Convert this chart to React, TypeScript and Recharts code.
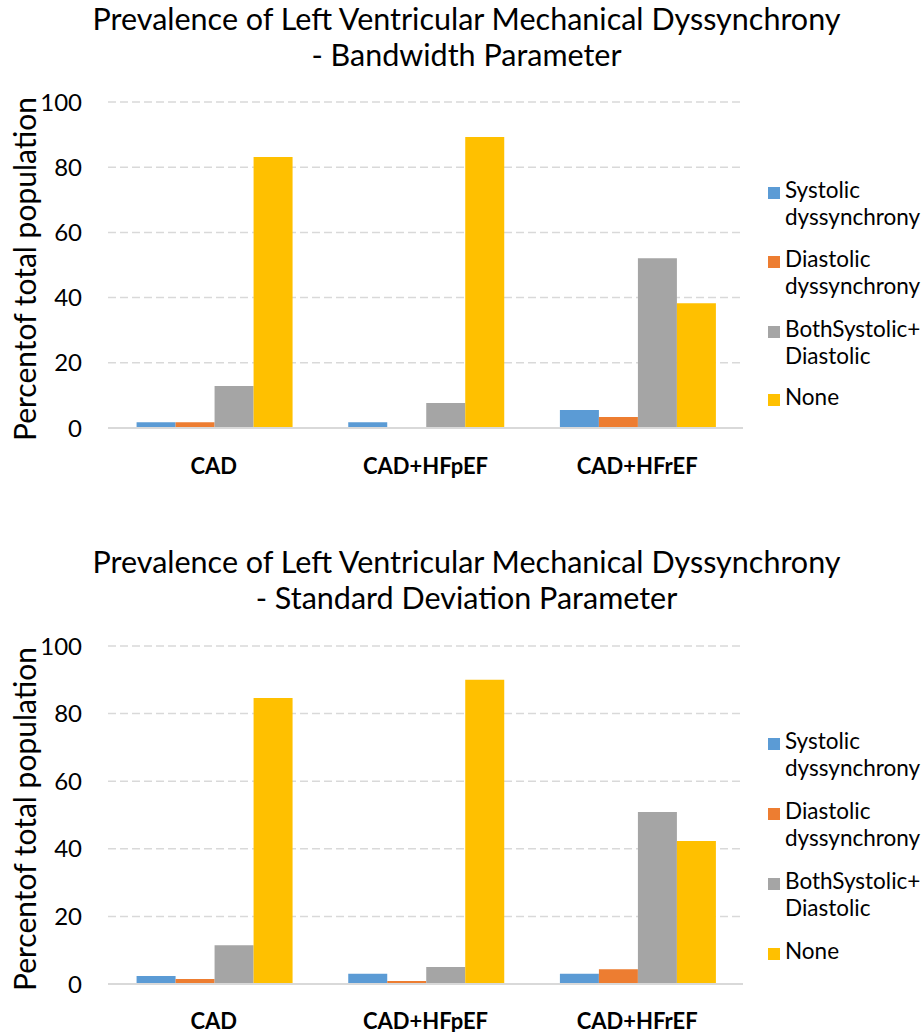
import { BarChart, Bar, XAxis, YAxis, CartesianGrid, Label } from 'recharts';

// categories and series
const categories = ['CAD', 'CAD+HFpEF', 'CAD+HFrEF'];
const seriesKeys = ['systolic', 'diastolic', 'both', 'none'];
const seriesLabels = [
  ['Systolic', 'dyssynchrony'],
  ['Diastolic', 'dyssynchrony'],
  ['BothSystolic+', 'Diastolic'],
  ['None'],
];
const seriesColors = ['#5B9BD5', '#ED7D31', '#A5A5A5', '#FFC000'];
const yTicks = [0, 20, 40, 60, 80, 100];

// Bandwidth parameter
const bwSystolic = [1.8, 1.8, 5.5];
const bwDiastolic = [1.8, 0.3, 3.4];
const bwBoth = [12.9, 7.7, 52.1];
const bwNone = [83.1, 89.3, 38.3];

// Standard deviation parameter
const sdSystolic = [2.4, 3.0, 3.0];
const sdDiastolic = [1.5, 0.9, 4.4];
const sdBoth = [11.5, 5.0, 50.9];
const sdNone = [84.6, 90.0, 42.3];

const FONT = 'Lato, "Open Sans", sans-serif';

function buildData(s: number[], d: number[], b: number[], n: number[]) {
  return categories.map((name, i) => ({
    name,
    systolic: s[i],
    diastolic: d[i],
    both: b[i],
    none: n[i],
  }));
}

interface PanelProps {
  top: number;
  titleLines: string[];
  data: any[];
  plotTop: number;
  plotBottom: number;
  tickDy: number;
  legendTops: number[];
}

function Panel({ top, titleLines, data, plotTop, plotBottom, tickDy, legendTops }: PanelProps) {
  const height = 516;
  return (
    <div style={{ position: 'absolute', left: 0, top, width: 923, height }}>
      <div
        style={{
          position: 'absolute',
          left: 5,
          top: 0,
          width: 923,
          textAlign: 'center',
          fontFamily: FONT,
          fontSize: 30.5,
          lineHeight: '36px',
          color: '#000',
          whiteSpace: 'nowrap',
        }}
      >
        {titleLines.map((t) => (
          <div key={t}>{t}</div>
        ))}
      </div>
      <BarChart
        width={923}
        height={height}
        data={data}
        margin={{ top: plotTop, right: 180, bottom: 0, left: 0 }}
        barCategoryGap="13.5%"
        barGap={0}
      >
        <CartesianGrid vertical={false} stroke="#D9D9D9" strokeWidth={1.5} strokeDasharray="8 4" />
        <XAxis
          dataKey="name"
          height={height - plotBottom}
          axisLine={{ stroke: '#D9D9D9', strokeWidth: 2 }}
          tickLine={false}
          tick={{ fill: '#000', fontFamily: FONT, fontSize: 22, fontWeight: 700, dy: tickDy }}
        />
        <YAxis
          width={108}
          domain={[0, 100]}
          ticks={yTicks}
          axisLine={false}
          tickLine={false}
          tickMargin={20}
          tick={{ fill: '#000', fontFamily: FONT, fontSize: 24 }}
        >
          <Label
            content={(props: any) => {
              const vb = props.viewBox || {};
              const cy = (vb.y ?? plotTop) + (vb.height ?? plotBottom - plotTop) / 2 + 4;
              return (
                <text
                  x={24}
                  y={cy}
                  transform={`rotate(-90, 24, ${cy})`}
                  textAnchor="middle"
                  dominantBaseline="central"
                  fontFamily={FONT}
                  fontSize={30}
                  fill="#000"
                >
                  Percentof total population
                </text>
              );
            }}
          />
        </YAxis>
        {seriesKeys.map((k, i) => (
          <Bar key={k} dataKey={k} fill={seriesColors[i]} isAnimationActive={false} />
        ))}
      </BarChart>
      {seriesLabels.map((lines, i) => (
        <div
          key={i}
          style={{
            position: 'absolute',
            left: 768,
            top: legendTops[i],
            fontFamily: FONT,
            fontSize: 22.5,
            lineHeight: '27px',
            color: '#000',
            whiteSpace: 'nowrap',
          }}
        >
          <span
            style={{
              position: 'absolute',
              left: 0,
              top: 11,
              width: 12,
              height: 12,
              background: seriesColors[i],
            }}
          />
          <div style={{ marginLeft: 17 }}>
            {lines.map((l) => (
              <div key={l}>{l}</div>
            ))}
          </div>
        </div>
      ))}
    </div>
  );
}

export default function App() {
  return (
    <div style={{ position: 'absolute', left: 0, top: 0, width: 923, height: 1032, background: '#fff' }}>
      <Panel
        top={0}
        titleLines={['Prevalence of Left Ventricular Mechanical Dyssynchrony', '- Bandwidth Parameter']}
        data={buildData(bwSystolic, bwDiastolic, bwBoth, bwNone)}
        plotTop={102}
        plotBottom={428}
        tickDy={22}
        legendTops={[176, 245, 315, 383]}
      />
      <Panel
        top={543}
        titleLines={['Prevalence of Left Ventricular Mechanical Dyssynchrony', '- Standard Deviation Parameter']}
        data={buildData(sdSystolic, sdDiastolic, sdBoth, sdNone)}
        plotTop={646 - 543}
        plotBottom={984 - 543}
        tickDy={21}
        legendTops={[184, 254, 324, 394]}
      />
    </div>
  );
}
